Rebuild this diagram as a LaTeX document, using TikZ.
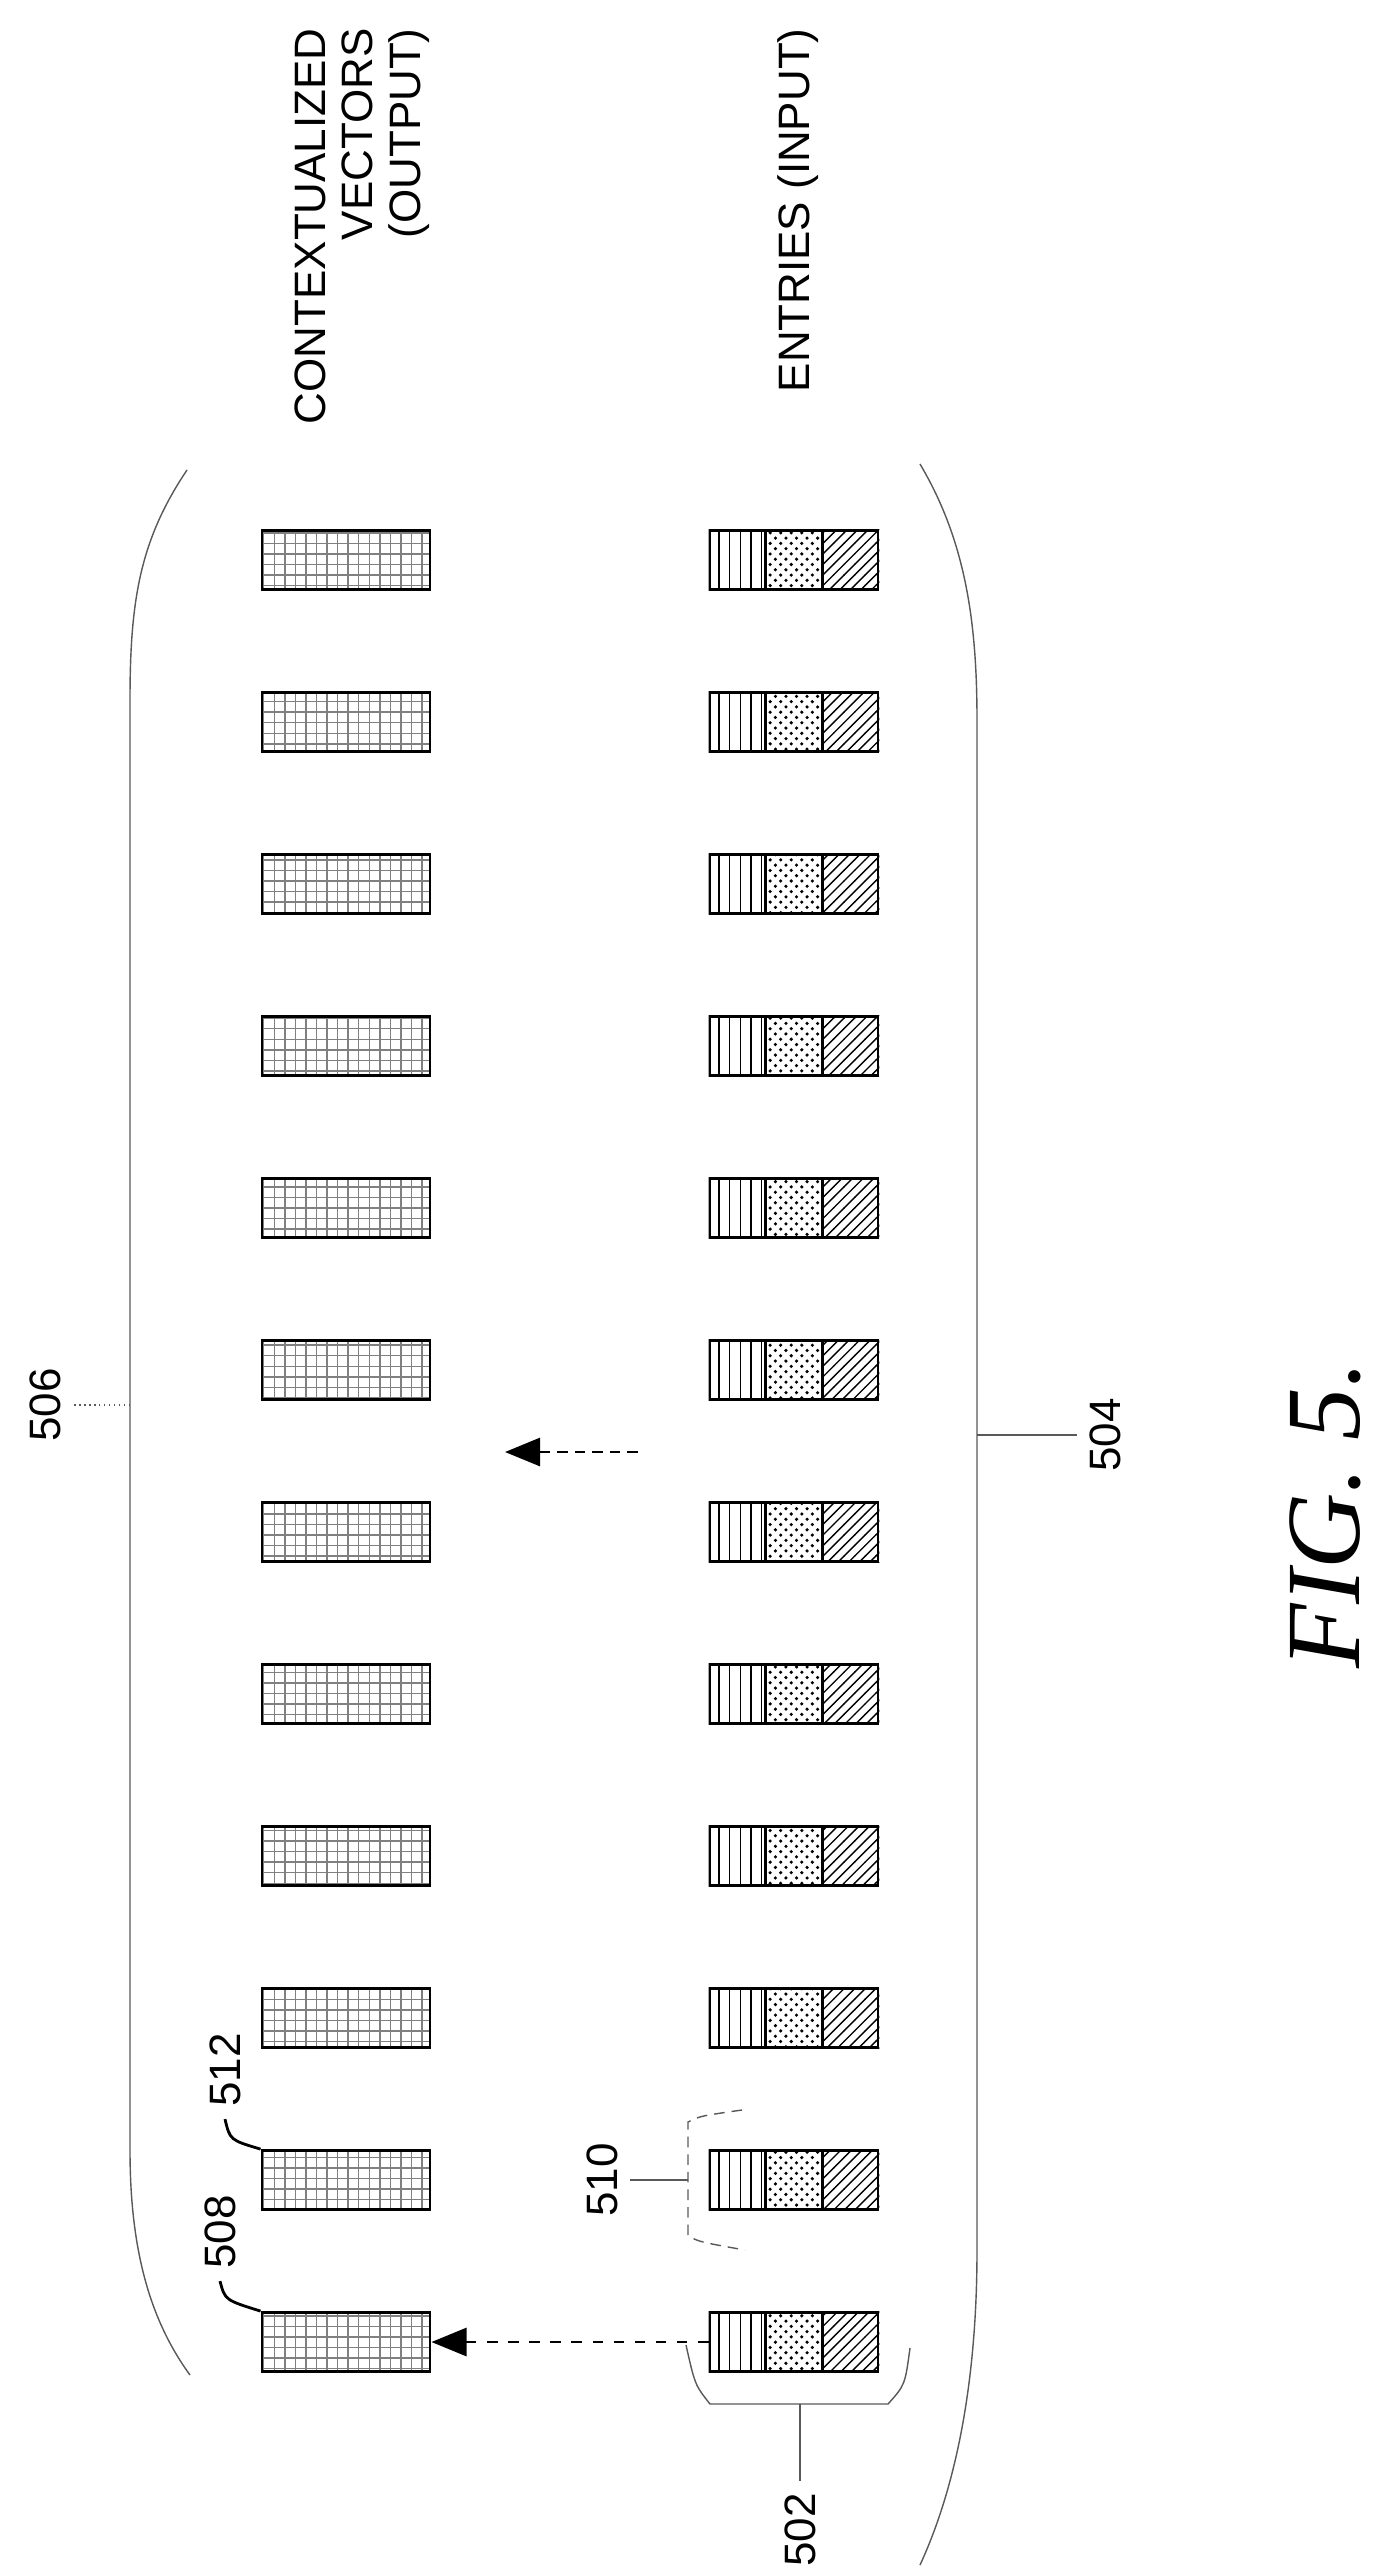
\documentclass[tikz,border=0pt]{standalone}
\usepackage{fontspec}
\setmainfont{Liberation Sans}
\newfontfamily\figfont{Liberation Serif}
\usetikzlibrary{patterns,calc,arrows.meta}
\tikzset{
    vec/.style={draw, thick, minimum width=1.68cm, minimum height=0.59cm, inner sep=0pt,
        pattern=grid, pattern color=gray},
    entry/.style={draw, thick, minimum width=1.68cm, minimum height=0.59cm, inner sep=0pt},
    ref/.style={font=\fontsize{12.5}{13.5}\selectfont, rotate=90},
    brk/.style={thin, gray!70!black}
}
\begin{document}
\begin{tikzpicture}[x=0.01cm, y=-0.01cm]
	\useasboundingbox (0,0) rectangle (1384,2569);

	% headings
	\node[ref, anchor=east, align=right] (outtxt) at (362,16) {CONTEXTUALIZED\\VECTORS\\(OUTPUT)};
	\node[ref, anchor=east] (intxt) at (798,16) {ENTRIES (INPUT)};

	% vectors and entries
	\foreach \i in {1,...,12} {
		\node[vec] (out\i) at (346,{2342-(\i-1)*162}) {};
		\node[entry] (in\i) at (794,{2342-(\i-1)*162}) {};
		\fill[pattern=vertical lines] (in\i.south west) rectangle ($(in\i.north west)!1/3!(in\i.north east)$);
		\fill[pattern=crosshatch dots] ($(in\i.south west)!1/3!(in\i.south east)$) rectangle ($(in\i.north west)!2/3!(in\i.north east)$);
		\fill[pattern=north east lines] ($(in\i.south west)!2/3!(in\i.south east)$) rectangle (in\i.north east);
		\draw[thick] ($(in\i.south west)!1/3!(in\i.south east)$) -- ($(in\i.north west)!1/3!(in\i.north east)$);
		\draw[thick] ($(in\i.south west)!2/3!(in\i.south east)$) -- ($(in\i.north west)!2/3!(in\i.north east)$);
	}

	% arrows
	\draw[thick, dashed, -{Triangle[length=10pt,width=8pt]}] (in1.west) -- (out1.east);
	\coordinate (mida) at (638,1452);
	\coordinate (midb) at (505,1452);
	\draw[thick, densely dashed, -{Triangle[length=10pt,width=8pt]}] (mida) -- (midb);

	% outer brackets
	\draw[brk] (187,470) .. controls (140,540) and (130,600) .. (130,700) -- (130,2150)
		.. controls (130,2250) and (150,2320) .. (190,2375);
	\coordinate (b506) at (130,1405);
	\node[ref] (l506) at (45,1405) {506};
	\draw[brk, densely dotted] (b506) -- (l506.south);

	\draw[brk] (920,464) .. controls (965,540) and (977,620) .. (977,720) -- (977,2250)
		.. controls (977,2400) and (950,2500) .. (920,2565);
	\coordinate (b504) at (977,1435);
	\node[ref] (l504) at (1105,1435) {504};
	\draw[brk] (b504) -- (l504.north);

	% small brackets
	\draw[brk, densely dashed] (742,2110) .. controls (700,2116) .. (688,2122) -- (688,2236) .. controls (700,2242) .. (745,2250);
	\node[ref] (l510) at (602,2180) {510};
	\draw[brk] (688,2180) -- (l510.south);

	\draw[brk] (686,2345) .. controls (695,2385) .. (710,2404) -- (888,2404) .. controls (905,2385) .. (910,2348);
	\node[ref] (l502) at (800,2530) {502};
	\draw[brk] (800,2404) -- (l502.east);

	% leaders
	\node[ref] (l508) at (220,2232) {508};
	\draw[thick] (l508.west) .. controls (225,2300) .. (out1.north west);
	\node[ref] (l512) at (225,2070) {512};
	\draw[thick] (l512.west) .. controls (230,2140) .. (out2.north west);

	% figure title
	\node[rotate=90, font=\figfont\itshape\fontsize{30}{30}\selectfont] (fig) at (1325,1515) {FIG. 5.};
\end{tikzpicture}
\end{document}
